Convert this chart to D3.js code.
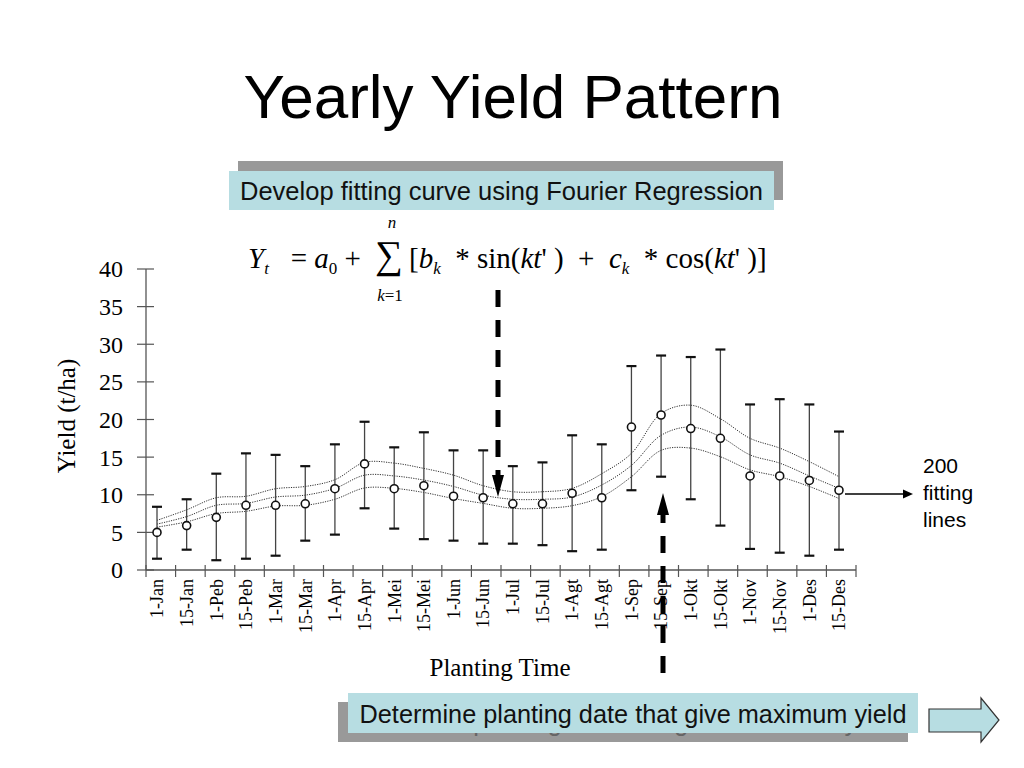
<!DOCTYPE html>
<html>
<head>
<meta charset="utf-8">
<script src="https://cdn.jsdelivr.net/npm/d3@7"></script>
<style>
  body { margin: 0; background: #fff; }
  svg { display: block; }
</style>
</head>
<body>
<div id="wrapper"></div>
<script>
// planting dates (Indonesian month names as in the source)
const categories = ["1-Jan", "15-Jan", "1-Peb", "15-Peb", "1-Mar", "15-Mar", "1-Apr", "15-Apr",
  "1-Mei", "15-Mei", "1-Jun", "15-Jun", "1-Jul", "15-Jul", "1-Agt", "15-Agt",
  "1-Sep", "15-Sep", "1-Okt", "15-Okt", "1-Nov", "15-Nov", "1-Des", "15-Des"]

// observed yield (t/ha): mean, and error bar top / bottom
const yieldMean = [5.0, 5.9, 7.0, 8.6, 8.6, 8.8, 10.8, 14.1, 10.8, 11.2, 9.8, 9.6,
  8.8, 8.8, 10.2, 9.6, 19.0, 20.6, 18.8, 17.5, 12.5, 12.5, 11.9, 10.6]
const yieldHigh = [8.4, 9.4, 12.8, 15.5, 15.3, 13.8, 16.7, 19.7, 16.3, 18.3, 15.9, 15.9,
  13.8, 14.3, 17.9, 16.7, 27.1, 28.5, 28.3, 29.3, 22.0, 22.7, 22.0, 18.4]
const yieldLow = [1.5, 2.7, 1.3, 1.5, 1.9, 3.9, 4.7, 8.2, 5.5, 4.1, 3.9, 3.5,
  3.5, 3.3, 2.5, 2.7, 10.6, 12.4, 9.4, 5.9, 2.8, 2.3, 1.9, 2.7]

// Fourier fitting curves: upper band, middle, lower band
const fitUpper = [6.6, 8.0, 9.6, 9.8, 10.8, 11.1, 12.0, 14.3, 14.2, 13.5, 12.6, 11.2,
  10.4, 10.4, 10.85, 12.8, 15.5, 20.8, 21.9, 20.1, 17.5, 16.2, 14.4, 12.4]
const fitMid = [6.1, 7.1, 8.6, 8.85, 9.7, 9.95, 10.85, 12.6, 12.5, 11.95, 11.1, 9.95,
  9.4, 9.4, 9.7, 11.3, 13.9, 17.9, 19.0, 17.7, 15.3, 14.2, 12.5, 10.85]
const fitLower = [5.7, 6.4, 7.5, 7.8, 8.5, 8.6, 9.4, 10.9, 10.85, 10.3, 9.5, 8.85,
  8.2, 8.2, 8.55, 9.75, 12.4, 15.9, 16.2, 15.05, 13.3, 12.4, 11.1, 9.5]

const yTicks = [0, 5, 10, 15, 20, 25, 30, 35, 40]

const serif = "'Liberation Serif', 'Times New Roman', serif"
const sans = "'Liberation Sans', Arial, sans-serif"

const width = 1024
const height = 768

const svg = d3.select("#wrapper")
  .append("svg")
  .attr("width", width)
  .attr("height", height)

// scales
const xBand = d3.scaleBand()
  .domain(categories)
  .range([146, 856])

const xPoint = d3.scalePoint()
  .domain(categories)
  .range([157, 839])

const yScale = d3.scaleLinear()
  .domain([0, 40])
  .range([570, 269])

// title
svg.append("text")
  .attr("x", 513)
  .attr("y", 118)
  .attr("text-anchor", "middle")
  .style("font-family", sans)
  .style("font-size", "62px")
  .text("Yearly Yield Pattern")

// callout box helper
function callout(x, y, w, h, dx, dy, label, fontSize, ghost) {
  const g = svg.append("g")
  g.append("rect")
    .attr("x", x + dx).attr("y", y + dy)
    .attr("width", w).attr("height", h)
    .attr("fill", "#999")
  if (ghost) {
    g.append("text")
      .attr("x", x + w / 2 + dx).attr("y", y + h / 2 + dy)
      .attr("dy", "0.35em")
      .attr("text-anchor", "middle")
      .style("font-family", sans)
      .style("font-size", fontSize + "px")
      .attr("fill", "#666")
      .text(label)
  }
  g.append("rect")
    .attr("x", x).attr("y", y)
    .attr("width", w).attr("height", h)
    .attr("fill", "#b7dde2")
  g.append("text")
    .attr("x", x + w / 2).attr("y", y + h / 2 + 1)
    .attr("dy", "0.35em")
    .attr("text-anchor", "middle")
    .style("font-family", sans)
    .style("font-size", fontSize + "px")
    .attr("fill", "#111")
    .text(label)
}

callout(229, 171, 545, 39, 9, -10, "Develop fitting curve using Fourier Regression", 25.5, false)
callout(348, 693, 570, 40, -10, 9, "Determine planting date that give maximum yield", 25.3, true)

// block arrow next to lower box
svg.append("path")
  .attr("d", "M929,709 L981,709 L981,698 L999,720 L981,742 L981,732 L929,732 Z")
  .attr("fill", "#b7dde2")
  .attr("stroke", "#333")
  .attr("stroke-width", 1.2)

// formula
const f1 = svg.append("text")
  .attr("x", 248).attr("y", 268)
  .style("font-family", serif)
  .style("font-size", "29px")
  .attr("xml:space", "preserve")
f1.append("tspan").style("font-style", "italic").text("Y")
f1.append("tspan").style("font-style", "italic").style("font-size", "17px").attr("dy", 6).text("t")
f1.append("tspan").attr("dy", -6).text("   = ")
f1.append("tspan").style("font-style", "italic").text("a")
f1.append("tspan").style("font-size", "17px").attr("dy", 6).text("0")
f1.append("tspan").attr("dy", -6).text(" +")

svg.append("text")
  .attr("x", 389).attr("y", 268)
  .attr("text-anchor", "middle")
  .style("font-family", serif)
  .style("font-size", "39px")
  .text("\u2211")
svg.append("text")
  .attr("x", 392).attr("y", 228)
  .attr("text-anchor", "middle")
  .style("font-family", serif)
  .style("font-style", "italic")
  .style("font-size", "17px")
  .text("n")
const sub = svg.append("text")
  .attr("x", 390).attr("y", 301)
  .attr("text-anchor", "middle")
  .style("font-family", serif)
  .style("font-size", "17px")
sub.append("tspan").style("font-style", "italic").text("k")
sub.append("tspan").text("=1")

const f2 = svg.append("text")
  .attr("x", 409).attr("y", 268)
  .style("font-family", serif)
  .style("font-size", "29px")
  .attr("xml:space", "preserve")
f2.append("tspan").text("[")
f2.append("tspan").style("font-style", "italic").text("b")
f2.append("tspan").style("font-style", "italic").style("font-size", "17px").attr("dy", 6).text("k")
f2.append("tspan").attr("dy", -6).text("  * sin(")
f2.append("tspan").style("font-style", "italic").text("kt")
f2.append("tspan").text("' )  +  ")
f2.append("tspan").style("font-style", "italic").text("c")
f2.append("tspan").style("font-style", "italic").style("font-size", "17px").attr("dy", 6).text("k")
f2.append("tspan").attr("dy", -6).text("  * cos(")
f2.append("tspan").style("font-style", "italic").text("kt")
f2.append("tspan").text("' )]")

// axes
const axisColor = "#555"

svg.append("line")
  .attr("x1", 146).attr("x2", 146)
  .attr("y1", yScale(40)).attr("y2", yScale(0))
  .attr("stroke", axisColor).attr("stroke-width", 1.3)

svg.append("line")
  .attr("x1", 146).attr("x2", 856)
  .attr("y1", yScale(0)).attr("y2", yScale(0))
  .attr("stroke", axisColor).attr("stroke-width", 1.3)

svg.selectAll(".ytick")
  .data(yTicks)
  .join("line")
  .attr("x1", 137).attr("x2", 154)
  .attr("y1", d => yScale(d)).attr("y2", d => yScale(d))
  .attr("stroke", axisColor).attr("stroke-width", 1.2)

svg.selectAll(".ylabel")
  .data(yTicks)
  .join("text")
  .attr("x", 123)
  .attr("y", d => yScale(d))
  .attr("dy", "0.35em")
  .attr("text-anchor", "end")
  .style("font-family", serif)
  .style("font-size", "24px")
  .text(d => d)

// x ticks at band edges
const xEdges = categories.map(c => xBand(c)).concat([xBand.range()[1]])
svg.selectAll(".xtick")
  .data(xEdges)
  .join("line")
  .attr("x1", d => d).attr("x2", d => d)
  .attr("y1", yScale(0) - 5).attr("y2", yScale(0) + 7)
  .attr("stroke", axisColor).attr("stroke-width", 1.2)

svg.selectAll(".xlabel")
  .data(categories)
  .join("text")
  .attr("transform", d => `translate(${xPoint(d)}, 579) rotate(-90)`)
  .attr("dy", "0.35em")
  .attr("text-anchor", "end")
  .style("font-family", serif)
  .style("font-size", "18px")
  .text(d => d)

svg.append("text")
  .attr("x", 500).attr("y", 676)
  .attr("text-anchor", "middle")
  .style("font-family", serif)
  .style("font-size", "25px")
  .text("Planting Time")

svg.append("text")
  .attr("transform", "translate(75, 416) rotate(-90)")
  .attr("text-anchor", "middle")
  .style("font-family", serif)
  .style("font-size", "25px")
  .text("Yield (t/ha)")

// fitting curves
const line = d3.line()
  .x((d, i) => xPoint(categories[i]))
  .y(d => yScale(d))
  .curve(d3.curveCatmullRom)

;[fitUpper, fitMid, fitLower].forEach(series => {
  svg.append("path")
    .attr("d", line(series))
    .attr("fill", "none")
    .attr("stroke", "#333")
    .attr("stroke-width", 1)
    .attr("stroke-dasharray", "1.2,1.2")
})

// error bars
const bars = svg.append("g")
categories.forEach((c, i) => {
  const x = xPoint(c)
  bars.append("line")
    .attr("x1", x).attr("x2", x)
    .attr("y1", yScale(yieldHigh[i])).attr("y2", yScale(yieldLow[i]))
    .attr("stroke", "#444").attr("stroke-width", 1.3)
  ;[yieldHigh[i], yieldLow[i]].forEach(v => {
    bars.append("line")
      .attr("x1", x - 5).attr("x2", x + 5)
      .attr("y1", yScale(v)).attr("y2", yScale(v))
      .attr("stroke", "#111").attr("stroke-width", 2.2)
  })
})

// observed points
svg.selectAll(".pt")
  .data(yieldMean)
  .join("circle")
  .attr("cx", (d, i) => xPoint(categories[i]))
  .attr("cy", d => yScale(d))
  .attr("r", 4)
  .attr("fill", "#fff")
  .attr("stroke", "#111")
  .attr("stroke-width", 1.6)

// dashed pointer arrows
function dashedArrow(x, yFrom, yTip, dir) {
  const headLen = 22
  svg.append("line")
    .attr("x1", x).attr("x2", x)
    .attr("y1", yFrom).attr("y2", yTip - dir * headLen)
    .attr("stroke", "#000").attr("stroke-width", 5)
    .attr("stroke-dasharray", "17,13")
  svg.append("path")
    .attr("d", `M${x - 6},${yTip - dir * headLen} L${x + 6},${yTip - dir * headLen} L${x},${yTip} Z`)
    .attr("fill", "#000")
}
dashedArrow(498, 290, 497, 1)
dashedArrow(663, 673, 493, -1)

// "200 fitting lines" pointer
svg.append("line")
  .attr("x1", 845).attr("x2", 905)
  .attr("y1", 494).attr("y2", 494)
  .attr("stroke", "#000").attr("stroke-width", 1.3)
svg.append("path")
  .attr("d", "M913,494 L903,489.5 L903,498.5 Z")
  .attr("fill", "#000")

const note = svg.append("text")
  .style("font-family", sans)
  .style("font-size", "21px")
;["200", "fitting", "lines"].forEach((t, i) => {
  note.append("tspan")
    .attr("x", 923)
    .attr("y", 473 + i * 27)
    .text(t)
})
</script>
</body>
</html>
